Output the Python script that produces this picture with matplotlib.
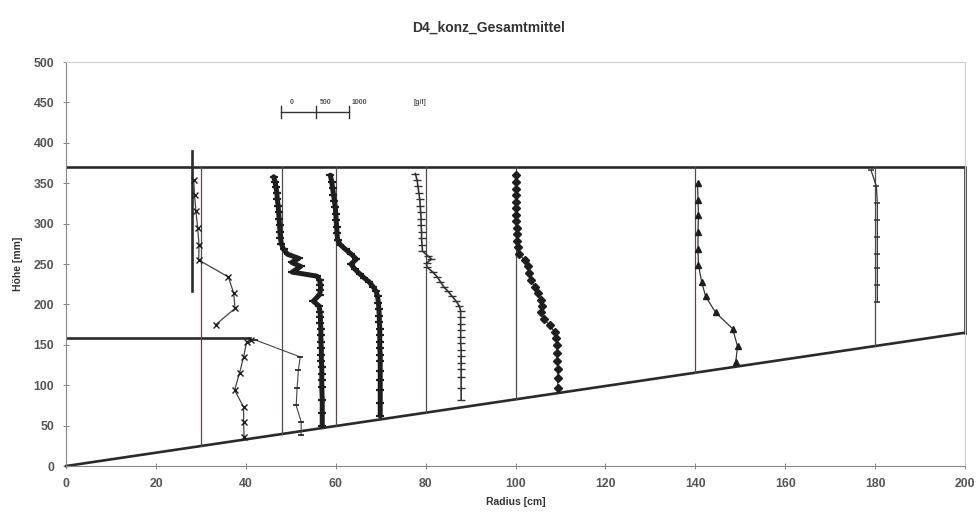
import matplotlib
matplotlib.use("Agg")
import matplotlib.pyplot as plt

plt.rcParams['font.family'] = ['Liberation Sans', 'DejaVu Sans']

# baseline radii of the measuring verticals [cm]
baselines = [30, 48, 60, 80, 100, 140, 180]

# tank outline: floor rises from (0,0) to (200,165), water surface at 370 mm
floor_r = [0, 200]
floor_h = [0, 165]
surface_h = 370
step_h = 158
step_r_end = 41
probe_r = 28
probe_h = [216, 390]

# profiles, radius [cm] vs height [mm]
p30_top_r = [28.4, 28.6, 28.9, 29.3, 29.6, 29.5, 36.1, 37.3, 37.6, 33.3]
p30_top_h = [354, 335, 315, 294, 273, 255, 234, 214, 195, 175]

p30_low_r = [41.2, 40.2, 39.5, 38.6, 37.5, 39.5, 39.5, 39.6]
p30_low_h = [156, 154, 135, 115, 94, 73, 55, 36]

p30_b_r = [42.1, 52.1, 51.7, 51.4, 51.2, 52.3, 52.3]
p30_b_h = [156, 135, 119, 96, 75, 55, 38]

p48_r = [46.2, 46.5, 46.7, 46.9, 47.0, 47.2, 47.3, 47.4, 47.5, 47.6, 47.7, 47.9,
         48.4, 49.3, 51.8, 50.2, 52.2, 50.3, 55.8, 56.4, 56.6, 56.6, 56.4, 55.0,
         56.3, 56.5, 56.6, 56.6, 56.7, 56.7, 56.7, 56.8, 56.8, 56.8, 56.9, 56.9,
         56.9, 56.9, 57.0, 57.0, 57.0]
p48_h = [358, 352, 345, 338, 330, 322, 314, 306, 298, 290, 282, 275,
         268, 262, 257, 252, 247, 240, 235, 230, 224, 218, 212, 204,
         198, 191, 184, 177, 170, 162, 154, 146, 138, 130, 122, 114,
         106, 98, 82, 66, 50]

p60_r = [58.8, 59.1, 59.3, 59.5, 59.7, 59.9, 60.0, 60.1, 60.2, 60.3, 60.4,
         61.0, 62.2, 63.5, 64.6, 63.4, 64.2, 65.3, 66.3, 67.4, 68.3, 69.0,
         69.3, 69.5, 69.6, 69.7, 69.7, 69.8, 69.8, 69.8, 69.8, 69.9, 69.9,
         69.9, 69.9, 69.9, 69.9, 69.9]
p60_h = [360, 352, 344, 336, 328, 320, 312, 304, 296, 288, 280,
         274, 268, 262, 256, 250, 244, 238, 233, 228, 222, 216,
         210, 202, 194, 186, 178, 170, 162, 154, 146, 138, 130,
         118, 106, 94, 78, 62]

p80_r = [77.7, 78.1, 78.3, 78.5, 78.7, 78.8, 78.9, 79.0, 79.0, 79.1, 79.1, 79.2,
         79.3, 80.5, 81.3, 80.2, 80.3, 81.6, 82.6, 83.3, 84.0, 85.0, 85.9, 86.8,
         87.5, 87.8, 87.8, 87.8, 87.8, 87.8, 87.8, 87.9, 87.9, 87.9, 87.9, 87.9,
         87.9, 87.9]
p80_h = [362, 354, 346, 338, 330, 322, 314, 306, 298, 290, 282, 274,
         266, 260, 256, 251, 246, 240, 234, 228, 222, 216, 210, 204,
         198, 192, 184, 176, 168, 160, 152, 144, 136, 128, 120, 110,
         96, 82]

p100_r = [100.0, 100.0, 100.1, 100.1, 100.1, 100.2, 100.2, 100.2, 100.3, 100.3,
          100.4, 100.5, 100.7, 102.0, 102.7, 102.9, 103.4, 104.3, 105.1, 105.6,
          105.9, 105.7, 106.4, 107.6, 108.7, 109.1, 109.3, 109.3, 109.3, 109.4,
          109.4, 109.4]
p100_h = [360, 352, 343, 335, 327, 319, 311, 303, 295, 287,
          279, 271, 263, 255, 247, 239, 230, 222, 214, 206,
          198, 190, 182, 174, 166, 158, 150, 140, 130, 120,
          109, 96]

p140_r = [140.5, 140.6, 140.7, 140.6, 140.6, 140.7, 141.4, 142.3, 144.5, 148.3, 149.4, 149.0]
p140_h = [350, 329, 311, 290, 269, 249, 228, 210, 190, 170, 148, 129]

p180_r = [179.1, 180.3, 180.5, 180.5, 180.5, 180.5, 180.5, 180.5, 180.5]
p180_h = [366, 346, 325, 304, 284, 263, 245, 224, 203]

# concentration scale bar [g/l]
scale_vals = [0, 500, 1000]
scale_labels = ['0', '500', '1000']
scale_r = [47.9, 55.5, 63.0]
scale_h = 438

ink = '#1e1e1e'
thin = '#5a4848'
grey = '#555555'

fig = plt.figure(figsize=(9.77, 5.15), dpi=100)
ax = fig.add_axes([0.0676, 0.0951, 0.9201, 0.7845])
ax.set_xlim(0, 200)
ax.set_ylim(0, 500)

# tank outline
ax.plot(floor_r, floor_h, color='#2a2a2a', lw=1.9, clip_on=False)
ax.plot([0, 200], [surface_h, surface_h], color='#2a2a2a', lw=1.9)
ax.plot([200, 200], [floor_h[1], surface_h], color='#2a2a2a', lw=1.9, clip_on=False)
ax.plot([0, step_r_end], [step_h, step_h], color='#2a2a2a', lw=1.9)
ax.plot([probe_r, probe_r], probe_h, color='#2a2a2a', lw=1.9)

# measuring verticals from floor to surface
for r in baselines:
    h0 = floor_h[0] + (floor_h[1] - floor_h[0]) * r / floor_r[1]
    ax.plot([r, r], [h0, surface_h], color=thin, lw=0.9)

ax.plot(p30_top_r, p30_top_h, color='#444', lw=0.9, marker='x', ms=5, mec=ink, mew=1.0)
ax.plot(p30_low_r, p30_low_h, color='#444', lw=0.9, marker='x', ms=5, mec=ink, mew=1.0)
ax.plot(p30_b_r, p30_b_h, color='#444', lw=0.8, marker='_', ms=4, mec=ink, mew=1.2)
ax.plot(p48_r, p48_h, color=ink, lw=3.6, marker='_', ms=5.5, mec=ink, mew=1.6,
        solid_capstyle='round')
ax.plot(p60_r, p60_h, color=ink, lw=3.6, marker='_', ms=5.5, mec=ink, mew=1.6,
        solid_capstyle='round')
ax.plot(p80_r, p80_h, color='#333', lw=1.2, marker='_', ms=5.5, mec='#333', mew=1.0)
ax.plot(p100_r, p100_h, color='#333', lw=0.9, marker='D', ms=4, mfc=ink, mec=ink)
ax.plot(p140_r, p140_h, color='#333', lw=0.9, marker='^', ms=5, mfc=ink, mec=ink)
ax.plot(p180_r, p180_h, color='#333', lw=0.9, marker='_', ms=4.5, mec='#333', mew=1.1)

# scale bar
ax.plot([scale_r[0], scale_r[-1]], [scale_h, scale_h], color='#333', lw=1.0)
for r, lab in zip(scale_r, scale_labels):
    ax.plot([r, r], [scale_h - 7, scale_h + 7], color='#333', lw=1.0)
    ax.text(r + 2.3, scale_h + 8, lab, fontsize=5, color=grey,
            ha='center', va='bottom', fontweight='bold')
ax.text(78.8, scale_h + 8, '[g/l]', fontsize=5, color=grey,
        ha='center', va='bottom', fontweight='bold')

ax.set_xticks(range(0, 201, 20))
ax.set_yticks(range(0, 501, 50))
ax.tick_params(direction='inout', length=5, width=0.7, color='#888',
               labelsize=8.8, labelcolor=grey, pad=6)
for lab in ax.get_xticklabels() + ax.get_yticklabels():
    lab.set_fontweight('bold')

for side in ('left', 'bottom'):
    ax.spines[side].set_color('#888')
    ax.spines[side].set_linewidth(0.8)
for side in ('top', 'right'):
    ax.spines[side].set_color('#cfcfcf')
    ax.spines[side].set_linewidth(0.8)

ax.set_xlabel('Radius [cm]', fontsize=7.5, fontweight='bold', color='#333', labelpad=5)
ax.set_ylabel('Höhe [mm]', fontsize=7.5, fontweight='bold', color='#333', labelpad=8)
fig.suptitle('D4_konz_Gesamtmittel', x=0.5, y=0.96, fontsize=10,
             fontweight='bold', color='#333')

fig.savefig('out.png', dpi=100)
